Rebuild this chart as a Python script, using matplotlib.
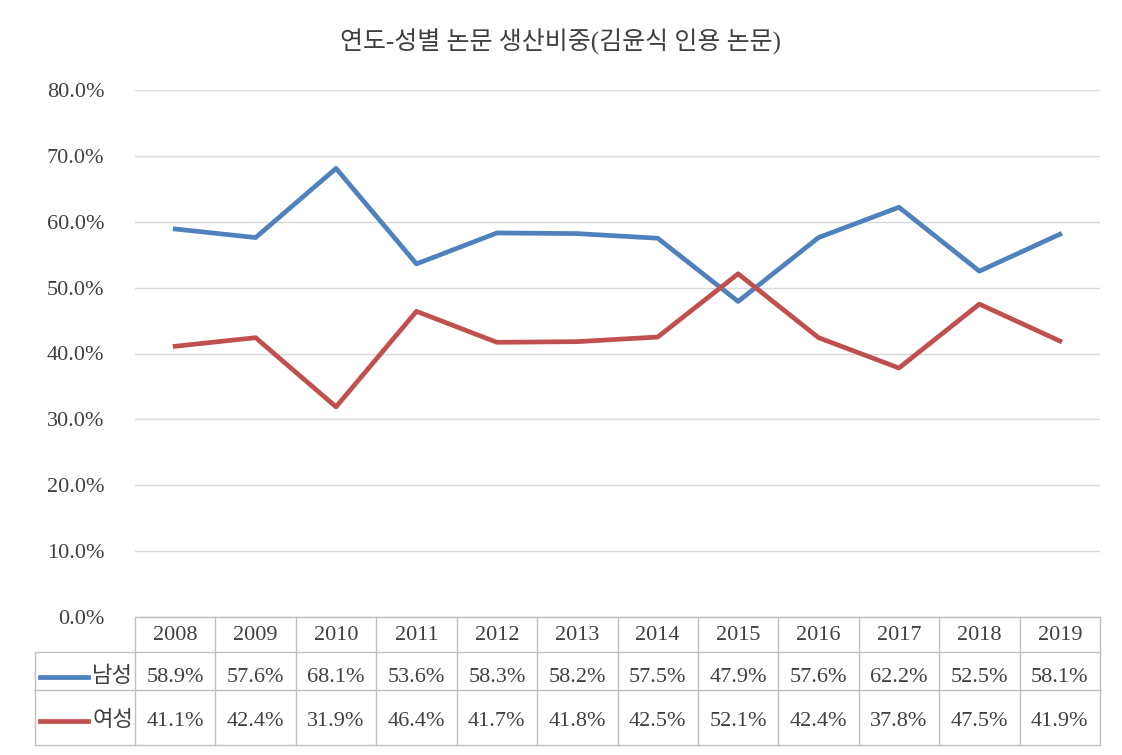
import matplotlib
matplotlib.use("Agg")
import matplotlib.pyplot as plt
from matplotlib.lines import Line2D

years = ["2008","2009","2010","2011","2012","2013","2014","2015","2016","2017","2018","2019"]
male = [58.9,57.6,68.1,53.6,58.3,58.2,57.5,47.9,57.6,62.2,52.5,58.1]
female = [41.1,42.4,31.9,46.4,41.7,41.8,42.5,52.1,42.4,37.8,47.5,41.9]
series_names = ["남성", "여성"]
colors = ["#4f81bd", "#c0504d"]
title = "연도-성별 논문 생산비중(김윤식 인용 논문)"

FAM = ["Liberation Serif", "Noto Sans CJK KR"]
plt.rcParams['font.family'] = FAM
FS = 16

W, H = 1122, 755
fig = plt.figure(figsize=(W/100, H/100), dpi=100)
def fx(px): return px / W
def fy(py): return 1 - py / H

L, R, T, B = 135, 1100, 90, 617
ax = fig.add_axes([fx(L), fy(B), fx(R - L), (B - T) / H])
x = list(range(len(years)))
ax.plot(x, male, color=colors[0], lw=3.4, solid_joinstyle='round')
ax.plot(x, female, color=colors[1], lw=3.4, solid_joinstyle='round')
ax.set_xlim(-0.5, len(years) - 0.5)
ax.set_ylim(0, 80)
ax.set_yticks(range(0, 81, 10))
ax.set_yticklabels([f"{v:.1f}%" for v in range(0, 81, 10)], fontsize=FS, color="#404040")
ax.set_xticks([])
ax.grid(axis='y', color="#d9d9d9", lw=1)
ax.set_axisbelow(True)
for s in ax.spines.values():
    s.set_visible(False)
ax.tick_params(axis='y', length=0, pad=22)

fig.text(0.5, fy(42), title, ha='center', va='center', fontsize=18, color="#404040", family=FAM)

gc = "#bfbfbf"
def hline(y, x0, x1):
    fig.add_artist(Line2D([fx(x0), fx(x1)], [fy(y), fy(y)], color=gc, lw=1))
def vline(xp, y0, y1):
    fig.add_artist(Line2D([fx(xp), fx(xp)], [fy(y0), fy(y1)], color=gc, lw=1))

rows = [617, 652, 690, 745]
hline(rows[0], L, R)
for r in rows[1:]:
    hline(r, 35, R)
vline(35, rows[1], rows[3])
cw = (R - L) / len(years)
for i in range(len(years) + 1):
    vline(L + i * cw, rows[0], rows[3])

for i, yr in enumerate(years):
    cx = L + (i + 0.5) * cw
    fig.text(fx(cx), fy(635), yr, ha='center', va='center', fontsize=FS, color="#404040")
    fig.text(fx(cx), fy(677), f"{male[i]:.1f}%", ha='center', va='center', fontsize=FS, color="#404040")
    fig.text(fx(cx), fy(721), f"{female[i]:.1f}%", ha='center', va='center', fontsize=FS, color="#404040")

for ycen, name, c in [(677, series_names[0], colors[0]), (721, series_names[1], colors[1])]:
    fig.add_artist(Line2D([fx(40), fx(88)], [fy(ycen), fy(ycen)], color=c, lw=3.4))
    fig.text(fx(92), fy(ycen), name, ha='left', va='center', fontsize=FS, color="#404040")

fig.savefig("out.png", dpi=100)
